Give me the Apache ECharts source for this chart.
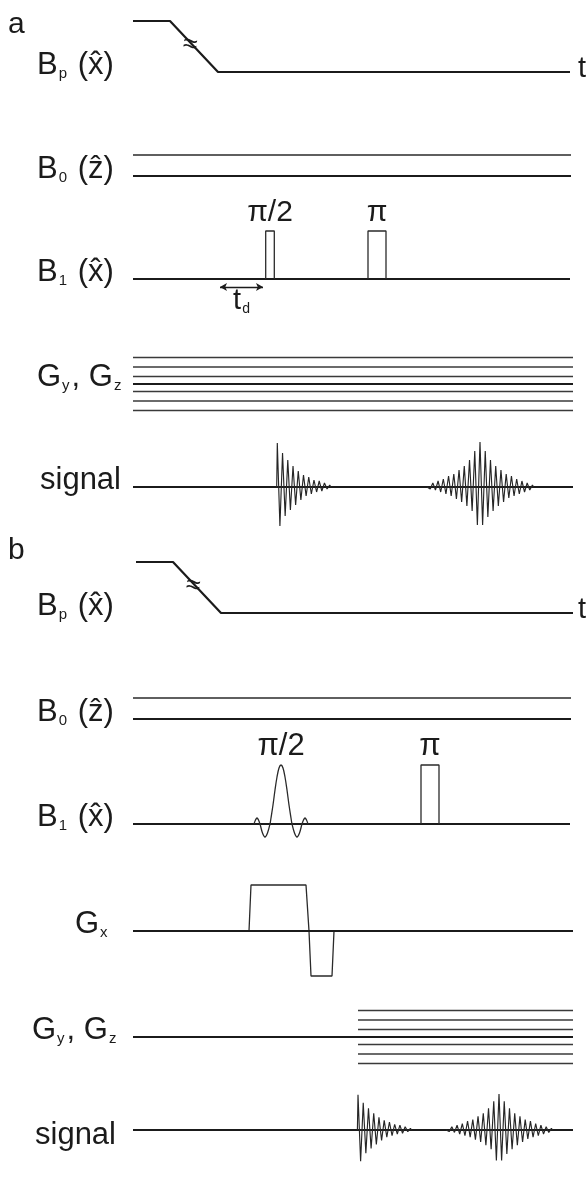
<!DOCTYPE html>
<html><head><meta charset="utf-8">
<script src="https://cdn.jsdelivr.net/npm/echarts@6/dist/echarts.min.js"></script>
<style>html,body{margin:0;padding:0;background:#fff}#c{width:588px;height:1178px}</style>
</head><body><div id="c"></div>
<script>
// ================= DATA (arbitrary time units along the sequence) =================
const timeMax = 440;
// polarising field ramp (Bp)
const bpTimesA = [0, 37, 85, 437];
const bpTimesB = [3, 40, 88, 440];
const bpLevels = [51, 51, 0, 0];
const bpBreakTimes = [57, 60];
const bpBreakLevel = 27;
// static field B0 : thin upper line level and baseline
const b0Levels = [21, 0];
// B1 hard pulses, panel a
const b1StartsA = [132.7, 235];
const b1EndsA = [141.3, 253];
const b1LabelsA = ['π/2', 'π'];
const b1HeightA = 48;
const tdSpan = [87, 130];
const tdLevel = -8;
// B1 panel b : soft sinc π/2 pulse + hard π pulse
const sincCenterB = 148;
const sincOffsets = [-27, -25.5, -24, -22.5, -21, -18.5, -16, -13.5, -11, -10, -8, -6, -4, -2, 0, 2, 4, 6, 8, 10, 11, 13.5, 16, 18.5, 21, 22.5, 24, 25.5, 27];
const sincAmps    = [0, 4, 6, 4, 0, -9, -13, -9, 0, 6, 19, 34, 47, 56, 59, 56, 47, 34, 19, 6, 0, -9, -13, -9, 0, 4, 6, 4, 0];
const b1PiStartB = 288, b1PiEndB = 306, b1PiHeightB = 59;
// read-out gradient Gx (panel b)
const gxTimes = [0, 116, 118, 173, 176, 178, 199, 201, 440];
const gxAmps  = [0, 0, 46, 46, 0, -45, -45, 0, 0];
// phase-encoding gradients Gy, Gz
const gradLevels = [26.5, 17, 7.5, -7.5, -17, -26.5];
const gradStarts = [0, 225];
// signal: successive oscillation extrema (FID and spin echo)
const fidExtrema  = [44, -39, 34, -29, 27, -23, 21, -18, 16, -13, 12, -9, 10, -7, 7, -5, 6, -4, 4, -2, 2];
const echoExtrema = [2, -2, 4, -3, 6, -5, 8, -7, 11, -9, 13, -12, 17, -15, 21, -19, 27, -24, 36, -38, 45, -38, 36, -30, 27, -24, 21, -19, 17, -15, 13, -11, 11, -9, 8, -7, 6, -5, 4, -3, 2];
const halfPeriod = 2.62;
const fidStarts = [144.3, 225];
const echoCenters = [347, 366];

// ================= LAYOUT / STYLE =================
const FONT = '"Liberation Sans", Arial, Helvetica, sans-serif';
const rowBase = [72, 176, 279, 384, 487, 613, 719, 824, 931, 1037, 1142];
const plotLeft = 133, plotWidth = 440, half = 60;
const INK = '#1b1b1b';
const thick = {color: INK, width: 2.2};
const thin = {color: '#2a2a2a', width: 1.3};
const grad = {color: '#3a3a3a', width: 1.5};
const sig = {color: '#262626', width: 1.15};
const LBL = 31, SUB = 15;

const grids = [], xAxes = [], yAxes = [], series = [];
rowBase.forEach((b, i) => {
  grids.push({left: plotLeft, width: plotWidth, top: b - half, height: 2 * half});
  xAxes.push({type: 'value', gridIndex: i, min: 0, max: timeMax, show: false});
  yAxes.push({type: 'value', gridIndex: i, min: -half, max: half, show: false});
});
function line(row, pts, style, extra) {
  series.push(Object.assign({type: 'line', xAxisIndex: row, yAxisIndex: row, data: pts, showSymbol: false,
    symbol: 'none', lineStyle: style, silent: true, animation: false, clip: false, z: 3}, extra || {}));
}
function textPoint(row, t, v, text, pos, dist, fs, extra) {
  series.push({type: 'scatter', xAxisIndex: row, yAxisIndex: row, data: [[t, v]], symbolSize: 0.001,
    itemStyle: {opacity: 1, color: 'rgba(0,0,0,0)'},
    silent: true, animation: false, z: 5,
    label: Object.assign({show: true, position: pos, distance: dist, formatter: text, color: INK, opacity: 1,
      textBorderWidth: 0, fontFamily: FONT, fontSize: fs}, extra || {})});
}
const zip = (ts, vs) => ts.map((t, k) => [t, vs[k]]);
function rectPulse(row, s, e, h) { line(row, [[s, 0], [s, h], [e, h], [e, 0]], thin); }
function oscillation(row, start, ext) {
  const pts = [[start - 0.6, 0]];
  ext.forEach((v, k) => pts.push([start + k * halfPeriod, v]));
  pts.push([start + ext.length * halfPeriod - halfPeriod / 2, 0]);
  line(row, pts, sig, {z: 4});
}

[0, 1].forEach(p => {
  const r = p === 0 ? 0 : 5;
  // Bp
  line(r, zip(p === 0 ? bpTimesA : bpTimesB, bpLevels), thick);
  textPoint(r, bpBreakTimes[p], bpBreakLevel, '≈', 'inside', 0, 26, {rotate: -8});
  // B0
  line(r + 1, [[0, b0Levels[0]], [timeMax - 2, b0Levels[0]]], thin);
  line(r + 1, [[0, b0Levels[1]], [timeMax - 2, b0Levels[1]]], thick);
  // B1
  line(r + 2, [[0, 0], [timeMax - 3, 0]], thick);
  // signal
  const sr = p === 0 ? 4 : 10;
  line(sr, [[0, 0], [timeMax, 0]], thick);
  oscillation(sr, fidStarts[p], fidExtrema);
  oscillation(sr, echoCenters[p] - (echoExtrema.length - 1) / 2 * halfPeriod, echoExtrema);
  // Gy Gz
  const gr = p === 0 ? 3 : 9;
  line(gr, [[0, 0], [timeMax, 0]], thick);
  gradLevels.forEach(l => line(gr, [[gradStarts[p], l], [timeMax, l]], grad));
});
// B1 panel a pulses
b1StartsA.forEach((s, k) => {
  rectPulse(2, s, b1EndsA[k], b1HeightA);
  textPoint(2, (s + b1EndsA[k]) / 2, b1HeightA, b1LabelsA[k], 'top', 3, 30);
});
// td arrow
series.push({type: 'line', xAxisIndex: 2, yAxisIndex: 2, data: [], silent: true, animation: false,
  markLine: {silent: true, animation: false, symbol: ['arrow', 'arrow'], symbolSize: [6, 7], label: {show: false},
    lineStyle: {color: INK, width: 1.3, type: 'solid'},
    data: [[{coord: [tdSpan[0], tdLevel]}, {coord: [tdSpan[1], tdLevel]}]]}});
textPoint(2, (tdSpan[0] + tdSpan[1]) / 2, tdLevel, '{m|t}{s|d}', 'bottom', -1, 29,
  {rich: {m: {fontFamily: FONT, fontSize: 29, color: INK}, s: {fontFamily: FONT, fontSize: 14, color: INK, padding: [16, 0, 0, 1]}}});
// B1 panel b
line(7, zip(sincOffsets.map(o => o + sincCenterB), sincAmps), thin, {smooth: 0.35});
rectPulse(7, b1PiStartB, b1PiEndB, b1PiHeightB);
textPoint(7, sincCenterB, b1PiHeightB, 'π/2', 'top', 3, 31);
textPoint(7, (b1PiStartB + b1PiEndB) / 2, b1PiHeightB, 'π', 'top', 3, 31);
// Gx
line(8, zip(gxTimes, gxAmps), thin);
line(8, [[0, 0], [timeMax, 0]], thick);

// ---- text labels ----
const rich = {
  m: {fontFamily: FONT, fontSize: LBL, color: INK},
  s: {fontFamily: FONT, fontSize: SUB, color: INK, padding: [17, 2, 0, 1]}
};
const rowText = [
  ['{m|B}{s|p}{m| (x̂)}', 37], ['{m|B}{s|0}{m| (ẑ)}', 37], ['{m|B}{s|1}{m| (x̂)}', 37],
  ['{m|G}{s|y}{m|, G}{s|z}', 37], ['{m|signal}', 40],
  ['{m|B}{s|p}{m| (x̂)}', 37], ['{m|B}{s|0}{m| (ẑ)}', 37], ['{m|B}{s|1}{m| (x̂)}', 37],
  ['{m|G}{s|x}', 75], ['{m|G}{s|y}{m|, G}{s|z}', 32], ['{m|signal}', 35]
];
const graphic = rowText.map((rt, i) => ({type: 'text', x: rt[1], y: rowBase[i] - 7, silent: true,
  style: {text: rt[0], rich: rich, textAlign: 'left', textVerticalAlign: 'middle', fill: INK}}));
graphic.push({type: 'text', x: 8, y: 25, style: {text: 'a', font: '30px ' + FONT, fill: INK, textVerticalAlign: 'middle'}});
graphic.push({type: 'text', x: 8, y: 551, style: {text: 'b', font: '30px ' + FONT, fill: INK, textVerticalAlign: 'middle'}});
[0, 5].forEach(r => graphic.push({type: 'text', x: 578, y: rowBase[r] - 3,
  style: {text: 't', font: '29px ' + FONT, fill: INK, textVerticalAlign: 'middle'}}));

const chart = echarts.init(document.getElementById('c'), null, {renderer: 'canvas'});
chart.setOption({backgroundColor: '#fff', animation: false, grid: grids, xAxis: xAxes, yAxis: yAxes, series: series, graphic: graphic});
</script></body></html>
